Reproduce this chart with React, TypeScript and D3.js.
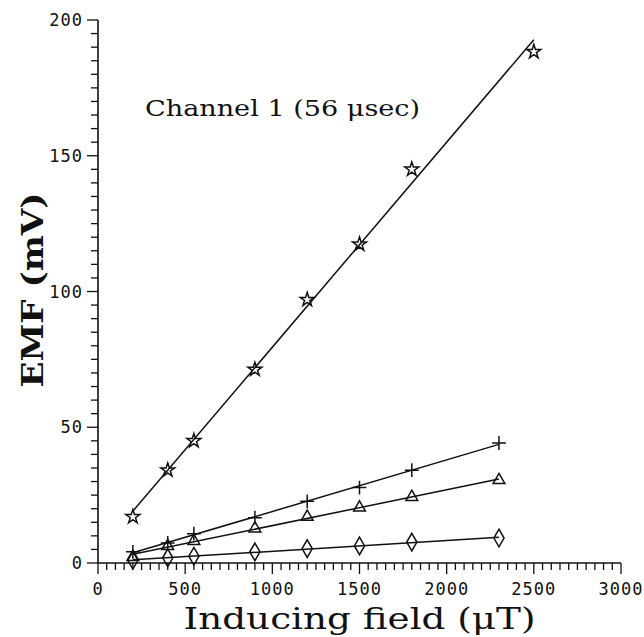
import * as d3 from "d3";
import React, { useEffect, useRef } from "react";

// Inducing field (uT) and EMF (mV)
const starField = [200, 400, 550, 900, 1200, 1500, 1800, 2500];
const starEmf = [17, 34.2, 45, 71.3, 97, 117.4, 145, 188.3];

const lowField = [200, 400, 550, 900, 1200, 1500, 1800, 2300];
const plusEmf = [4.1, 7.4, 10.8, 16.7, 22.7, 27.8, 34.2, 44.2];
const triangleEmf = [2.2, 6.2, 8.1, 12.7, 17, 20.4, 24.3, 30.5];
const diamondEmf = [1.0, 1.9, 2.5, 4.1, 5.3, 6.3, 7.7, 9.2];

const xTicks = [0, 500, 1000, 1500, 2000, 2500, 3000];
const yTicks = [0, 50, 100, 150, 200];

const W = 644;
const H = 637;
const margin = { top: 20, right: 23, bottom: 74, left: 98 };

// least squares line through a series
function fit(xs: number[], ys: number[]) {
  const mx = d3.mean(xs)!;
  const my = d3.mean(ys)!;
  let sxy = 0;
  let sxx = 0;
  xs.forEach((x, i) => {
    sxy += (x - mx) * (ys[i] - my);
    sxx += (x - mx) * (x - mx);
  });
  const b = sxy / sxx;
  const a = my - b * mx;
  return (x: number) => a + b * x;
}

const App: React.FC = () => {
  const svgRef = useRef<SVGSVGElement | null>(null);

  useEffect(() => {
    if (!svgRef.current) return;
    const svg = d3.select(svgRef.current);
    svg.selectAll("*").remove();

    const x = d3
      .scaleLinear()
      .domain([0, 3000])
      .range([margin.left, W - margin.right]);
    const y = d3
      .scaleLinear()
      .domain([0, 200])
      .range([H - margin.bottom, margin.top]);

    const ink = "#111";
    const tickFont = "'DejaVu Sans Mono', monospace";
    const serif = "'DejaVu Serif', 'Liberation Serif', serif";

    // === Axes ===
    const yAxis = svg.append("g");
    yAxis
      .append("line")
      .attr("x1", x(0))
      .attr("x2", x(0))
      .attr("y1", y(200))
      .attr("y2", y(0))
      .attr("stroke", ink)
      .attr("stroke-width", 1.6);
    yAxis
      .selectAll(".ytick")
      .data(d3.range(0, 201, 5))
      .enter()
      .append("line")
      .attr("x1", x(0))
      .attr("x2", (d) => x(0) - (d % 50 === 0 ? 11 : 7))
      .attr("y1", (d) => y(d))
      .attr("y2", (d) => y(d))
      .attr("stroke", ink)
      .attr("stroke-width", 1.3);
    yAxis
      .selectAll(".ylab")
      .data(yTicks)
      .enter()
      .append("text")
      .attr("x", x(0) - 15)
      .attr("y", (d) => y(d) + 6)
      .attr("text-anchor", "end")
      .attr("font-family", tickFont)
      .attr("font-size", 17)
      .attr("letter-spacing", 1)
      .attr("fill", ink)
      .text((d) => d);

    const xAxis = svg.append("g");
    xAxis
      .append("line")
      .attr("x1", x(0))
      .attr("x2", x(3000))
      .attr("y1", y(0))
      .attr("y2", y(0))
      .attr("stroke", ink)
      .attr("stroke-width", 1.6);
    xAxis
      .selectAll(".xtick")
      .data(d3.range(0, 3001, 50))
      .enter()
      .append("line")
      .attr("x1", (d) => x(d))
      .attr("x2", (d) => x(d))
      .attr("y1", y(0))
      .attr("y2", (d) => y(0) + (d % 500 === 0 ? 11 : 7))
      .attr("stroke", ink)
      .attr("stroke-width", 1.3);
    xAxis
      .selectAll(".xlab")
      .data(xTicks)
      .enter()
      .append("text")
      .attr("x", (d) => x(d))
      .attr("y", y(0) + 32)
      .attr("text-anchor", "middle")
      .attr("font-family", tickFont)
      .attr("font-size", 17)
      .attr("letter-spacing", 1)
      .attr("fill", ink)
      .text((d) => d);

    // === Fit lines and markers ===
    const series = [
      { xs: starField, ys: starEmf, sym: d3.symbolStar, size: 60 },
      { xs: lowField, ys: plusEmf, sym: d3.symbolPlus, size: 64 },
      { xs: lowField, ys: triangleEmf, sym: d3.symbolTriangle, size: 60 },
      { xs: lowField, ys: diamondEmf, sym: d3.symbolDiamond, size: 90 },
    ];

    series.forEach((s) => {
      const f = fit(s.xs, s.ys);
      const x0 = d3.min(s.xs)!;
      const x1 = d3.max(s.xs)!;
      svg
        .append("line")
        .attr("x1", x(x0))
        .attr("y1", y(f(x0)))
        .attr("x2", x(x1))
        .attr("y2", y(f(x1)))
        .attr("stroke", ink)
        .attr("stroke-width", 1.5);

      const symbol = d3.symbol().type(s.sym).size(s.size);
      svg
        .append("g")
        .selectAll("path")
        .data(s.xs.map((v, i) => [v, s.ys[i]]))
        .enter()
        .append("path")
        .attr("transform", (d) => `translate(${x(d[0])},${y(d[1])})`)
        .attr("d", symbol as any)
        .attr("fill", "none")
        .attr("stroke", ink)
        .attr("stroke-width", 1.5);
    });

    // === Labels ===
    svg
      .append("text")
      .attr("x", 145)
      .attr("y", 116)
      .attr("font-family", serif)
      .attr("font-size", 22)
      .attr("textLength", 275)
      .attr("lengthAdjust", "spacingAndGlyphs")
      .attr("fill", ink)
      .text("Channel 1 (56 μsec)");

    svg
      .append("text")
      .attr("x", (x(0) + x(3000)) / 2)
      .attr("y", 629)
      .attr("text-anchor", "middle")
      .attr("font-family", serif)
      .attr("font-size", 29)
      .attr("textLength", 352)
      .attr("lengthAdjust", "spacingAndGlyphs")
      .attr("fill", ink)
      .text("Inducing field (μT)");

    svg
      .append("text")
      .attr("transform", `translate(43,${290}) rotate(-90)`)
      .attr("text-anchor", "middle")
      .attr("font-family", serif)
      .attr("font-size", 30)
      .attr("font-weight", "bold")
      .attr("textLength", 195)
      .attr("lengthAdjust", "spacingAndGlyphs")
      .attr("fill", ink)
      .text("EMF (mV)");
  }, []);

  return (
    <svg
      ref={svgRef}
      width={W}
      height={H}
      style={{ position: "absolute", left: 0, top: 0, background: "#fff" }}
    ></svg>
  );
};

export default App;
